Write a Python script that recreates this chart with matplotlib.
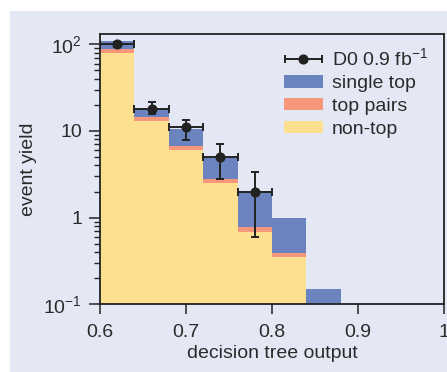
import matplotlib
matplotlib.use("Agg")
import matplotlib.pyplot as plt
from matplotlib.patches import Rectangle
from matplotlib.legend_handler import HandlerErrorbar
from matplotlib.ticker import FixedLocator, FixedFormatter, LogLocator, NullFormatter, NullLocator
import numpy as np

# ---- data ----
bin_edges = [0.60, 0.64, 0.68, 0.72, 0.76, 0.80, 0.84, 0.88]
non_top = [80, 13.0, 6.0, 2.5, 0.68, 0.35, 0.0]
top_pairs = [9, 1.6, 0.7, 0.3, 0.09, 0.04, 0.0]
single_top = [20, 3.3, 3.8, 2.1, 1.27, 0.61, 0.152]

data_x = [0.62, 0.66, 0.70, 0.74, 0.78]
data_y = [100, 18, 11, 5, 2]
data_err_lo = [6, 2.1, 3.2, 2.24, 1.41]
data_err_hi = [6, 3.5, 2.55, 2.06, 1.37]
data_xerr = [0.02, 0.02, 0.02, 0.02, 0.02]

ytick_vals = [0.1, 1, 10, 100]
ytick_labels = ['$10^{-1}$', '1', '10', '$10^{2}$']
xtick_vals = [0.6, 0.7, 0.8, 0.9, 1.0]
xtick_labels = ['0.6', '0.7', '0.8', '0.9', '1']

# ---- style ----
plt.rcParams['font.family'] = ['Liberation Sans', 'DejaVu Sans']
plt.rcParams['mathtext.fontset'] = 'custom'
plt.rcParams['mathtext.rm'] = 'Liberation Sans'
plt.rcParams['mathtext.default'] = 'regular'

BG = '#e4e8f4'
C_SINGLE = '#6b84c0'
C_PAIRS = '#f6977c'
C_NONTOP = '#fde08f'
TXT = '#2b2b2b'
DARK = '#222222'
FS = 14

fig = plt.figure(figsize=(4.47, 3.72), dpi=100, facecolor='white')
fig.patches.append(Rectangle((10 / 447, 0), 1, (372 - 11) / 372, transform=fig.transFigure,
                             facecolor=BG, edgecolor='none', zorder=-10))
ax = fig.add_axes([100 / 447, 1 - 304.3 / 372, (444 - 100) / 447, (304.3 - 34) / 372])
ax.set_facecolor(BG)

edges = np.array(bin_edges)
lefts = edges[:-1]
widths = np.diff(edges)
nt = np.array(non_top)
tp = np.array(top_pairs)
st = np.array(single_top)

ax.bar(lefts, nt, width=widths, align='edge', color=C_NONTOP, linewidth=0, label='non-top', bottom=1e-6)
ax.bar(lefts, tp, width=widths, align='edge', color=C_PAIRS, linewidth=0, bottom=nt + 1e-6, label='top pairs')
ax.bar(lefts, st, width=widths, align='edge', color=C_SINGLE, linewidth=0, bottom=nt + tp + 1e-6, label='single top')

# vertical (statistical) error bars
ax.errorbar(data_x, data_y, yerr=[data_err_lo, data_err_hi], fmt='none',
            ecolor=DARK, elinewidth=1.4, capsize=3, capthick=1.4, zorder=5)
# points with bin-width bars (labelled)
data_handle = ax.errorbar(data_x, data_y, xerr=data_xerr, fmt='o',
                          color=DARK, markersize=6.3, elinewidth=1.4, capsize=3, capthick=1.4,
                          label='D0 0.9 fb$^{-1}$', zorder=6)

ax.set_yscale('log')
ax.set_ylim(0.1, 131.5)
ax.set_xlim(0.6, 1.0)

ax.yaxis.set_major_locator(FixedLocator(ytick_vals))
ax.yaxis.set_major_formatter(FixedFormatter(ytick_labels))
ax.yaxis.set_minor_locator(LogLocator(base=10, subs=np.arange(2, 10), numticks=20))
ax.yaxis.set_minor_formatter(NullFormatter())
ax.xaxis.set_major_locator(FixedLocator(xtick_vals))
ax.xaxis.set_major_formatter(FixedFormatter(xtick_labels))
ax.xaxis.set_minor_locator(NullLocator())

ax.tick_params(axis='both', which='major', direction='out', length=8, width=1.1,
               colors=DARK, labelcolor=TXT, labelsize=FS)
ax.tick_params(axis='x', which='major', length=7, pad=7.5)
ax.tick_params(axis='y', which='major', pad=5)
ax.tick_params(axis='y', which='minor', direction='out', length=4.3, width=1.0, colors=DARK)
for s in ax.spines.values():
    s.set_linewidth(1.3)
    s.set_color(DARK)

ax.set_xlabel('decision tree output', fontsize=FS, color=TXT, labelpad=2.5)
ax.set_ylabel('event yield', fontsize=FS, color=TXT, labelpad=4.5)

handles, labels = ax.get_legend_handles_labels()
order = [labels.index('D0 0.9 fb$^{-1}$'), labels.index('single top'),
         labels.index('top pairs'), labels.index('non-top')]
leg = ax.legend([handles[i] for i in order], [labels[i] for i in order],
                loc='upper left', bbox_to_anchor=(0.535, 0.95), frameon=False,
                fontsize=FS, handlelength=2.0, handleheight=0.6, handletextpad=0.45,
                labelspacing=0.3, borderpad=0, borderaxespad=0,
                handler_map={data_handle: HandlerErrorbar(xerr_size=0.95)})
for t in leg.get_texts():
    t.set_color(TXT)

fig.savefig('out.png', dpi=100, facecolor=fig.get_facecolor())
